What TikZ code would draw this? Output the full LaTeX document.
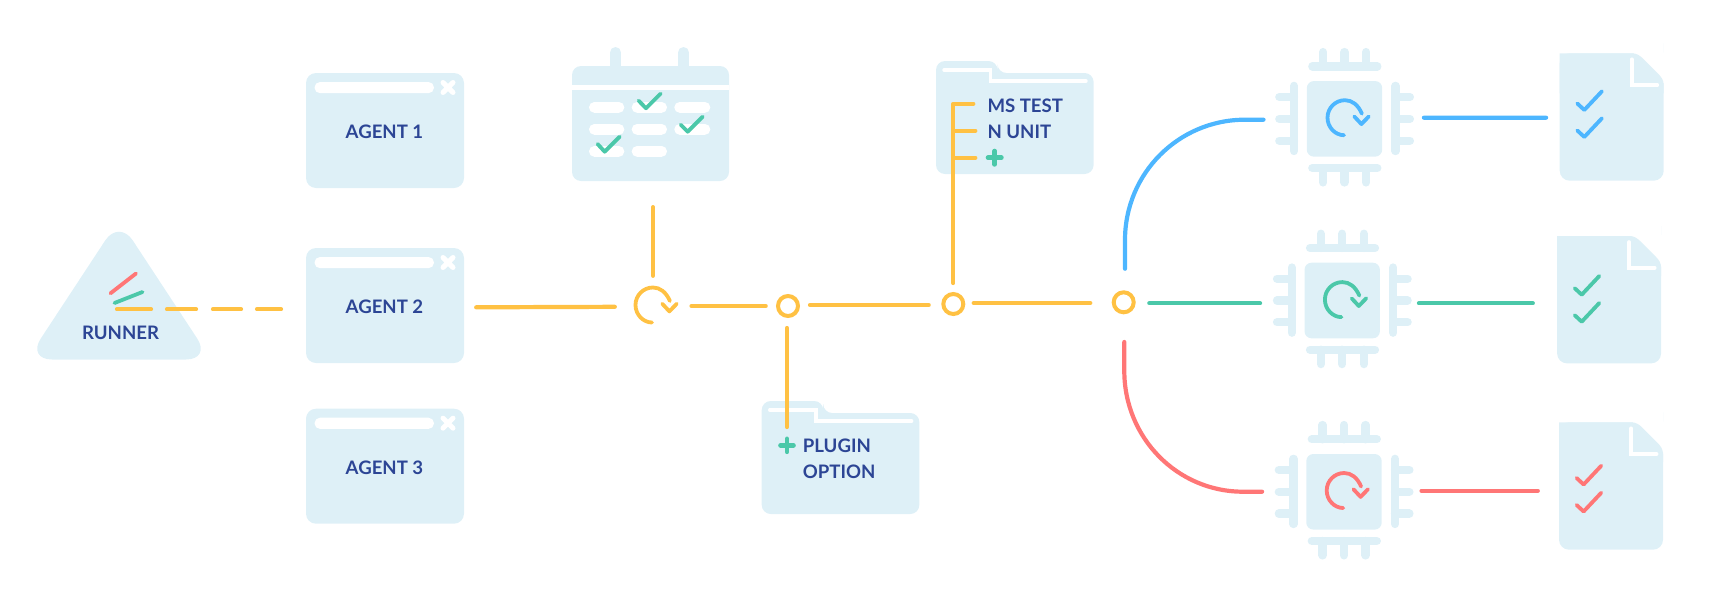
\documentclass[tikz,border=0pt]{standalone}
\usepackage{fontspec}
\setmainfont{Lato}
\definecolor{pale}{HTML}{DEF0F7}
\definecolor{amber}{HTML}{FFC143}
\definecolor{skyb}{HTML}{4DB6FF}
\definecolor{teal}{HTML}{4BC8A9}
\definecolor{coral}{HTML}{FF7676}
\definecolor{navy}{HTML}{2C4595}
\usetikzlibrary{calc}
\tikzset{
  panel/.style={fill=pale,rounded corners=10pt,inner sep=0pt,minimum width=158pt,minimum height=115pt},
  lbl/.style={text=navy,font=\fontsize{18.6}{18.6}\selectfont\bfseries,inner sep=0pt},
  lblw/.style={lbl,anchor=west},
  wire/.style={line width=4.2pt,line cap=round,line join=round},
  bar/.style={pale,line width=8.3pt,line cap=round},
  whitebar/.style={white,line cap=round,line join=miter},
  tick/.style={line width=3.8pt,line cap=round,line join=round},
  hub/.style={circle,draw=amber,line width=4pt,minimum size=20pt,inner sep=0pt},
  spot/.style={circle,minimum size=35pt,inner sep=0pt},
  core/.style={fill=pale,rounded corners=7pt,minimum width=75.4pt,minimum height=75.6pt,inner sep=0pt},
  sheet/.style={minimum width=104pt,minimum height=127.4pt,inner sep=0pt},
  plus/.style={teal,line width=4.6pt,line cap=round}
}
% refresh glyph around a point: #1 centre, #2 colour
\newcommand\refreshmark[2]{%
  \begin{scope}[shift={#1}]
    \draw[tick,#2] ($(0,0)+(16.9,-4)$) .. controls (13,-13) and (7,-17.5) .. (0,-17.5)
      .. controls (-9.7,-17.5) and (-17.5,-9.7) .. (-17.5,0)
      .. controls (-17.5,9.7) and (-9.7,17.5) .. (-1,17.5);
    \draw[tick,#2] (9.3,-1.2) -- (16.4,6.4) -- (23.8,-1.3);
  \end{scope}}
% chip: #1 name, #2 centre
\newcommand\chipmark[2]{%
  \node[core] (#1) at #2 {};
  \begin{scope}[shift={#2}]
    \foreach \sy in {-21.8,0,21.8}{
      \draw[bar] (-50.5,\sy) -- (-65.2,\sy);
      \draw[bar] (51,\sy) -- (65.4,\sy);}
    \foreach \sx in {-21.4,0,21.6}{
      \draw[bar] (\sx,-52.5) -- (\sx,-66.8);
      \draw[bar] (\sx,49.2) -- (\sx,63.6);}
    \draw[bar] (-50.5,-33) -- (-50.5,32.2);
    \draw[bar] (51,-33) -- (51,32.2);
    \draw[bar] (-32.2,-52.5) -- (32.8,-52.5);
    \draw[bar] (-32.2,49.2) -- (32.8,49.2);
  \end{scope}}
% document: #1 name, #2 centre, #3 colour, #4 vertical offset of the ticks
\newcommand\docmark[4]{%
  \node[sheet] (#1) at #2 {};
  \begin{scope}[shift={#2},shift={(-52,-63.7)}]
    \fill[pale,rounded corners=10pt] (0,0) -- (0,127.4) -- (104,127.4) -- (104,0) -- (104,0);
    \fill[white] (73,-1) -- (105,-1) -- (105,31) -- cycle;
    \fill[pale] (0,10) .. controls (0,4) and (4,0) .. (10,0) -- (72,0)
       .. controls (77,0) and (80,2) .. (84,6) -- (98,20) .. controls (102,24) and (104,27) .. (104,32) -- (104,40) -- (0,40) -- cycle;
    \draw[whitebar,line width=3.7pt] (72,6) -- (72,31.7) -- (97.6,31.7);
    \draw[tick,#3] (17.6,#4+50.2) -- (24.6,#4+56.7) -- (42.2,#4+38);
    \draw[tick,#3] (17.6,#4+77.2) -- (24.6,#4+83.7) -- (42.2,#4+65);
  \end{scope}}
% folder: #1 left, #2 tab top
\newcommand\foldermark[2]{%
  \begin{scope}[shift={(#1,#2)}]
    \fill[pale,rounded corners=9pt] (0,0) -- (0,113) -- (157.6,113) -- (157.6,12) -- (61.5,12) -- (61.5,0) -- cycle;
    \draw[whitebar,line width=3.4pt] (8,9) -- (54.3,9) -- (54.3,20) -- (150,20);
  \end{scope}}
% window decoration: #1 top-left
\newcommand\windowmark[1]{%
  \begin{scope}[shift={#1}]
    \fill[white,rounded corners=5.5pt] (8.5,9) rectangle (128,20.2);
    \draw[white,line width=5pt,line cap=round] (137,9.5) -- (147,19.5) (147,9.5) -- (137,19.5);
  \end{scope}}
\begin{document}
\begin{tikzpicture}[x=1pt,y=-1pt]
\useasboundingbox (0,0) rectangle (1722,611);
% runner
\coordinate (runner) at (119,309.3);
\fill[pale,rounded corners=25pt] (119,219.5) -- (27,359.5) -- (211,359.5) -- cycle;
\draw[tick,coral] (110.5,293.3) -- (136,273.5);
\draw[tick,teal] (114.5,303) -- (142.5,292);
\node[lbl] (runnerlabel) at (120.5,332.5) {RUNNER};
% agents
\node[panel] (agent1) at (385,130.5) {};
\node[panel] (agent2) at (385,305.5) {};
\node[panel] (agent3) at (385,466.2) {};
\windowmark{(306,73)}
\windowmark{(306,248)}
\windowmark{(306,408.7)}
\node[lbl] at (384.5,131.8) {AGENT 1};
\node[lbl] at (384.5,307) {AGENT 2};
\node[lbl] at (384.5,467.3) {AGENT 3};
% calendar
\draw[pale,line width=11pt,line cap=round] (615.5,52.5) -- (615.5,70) (683.5,52.5) -- (683.5,70);
\node[fill=pale,rounded corners=9pt,minimum width=157pt,minimum height=115pt,inner sep=0pt] (calendar) at (650.5,123.5) {};
\fill[white] (572,84.7) rectangle (729,90);
\foreach \cx/\cw in {589/35.3,631.7/35.3,674.3/36}{
  \foreach \cy in {102,124,146}{
    \ifdim\cy pt=146pt\ifdim\cx pt>670pt\else\fill[white,rounded corners=5.3pt] (\cx,\cy) rectangle ++(\cw,10.8);\fi
    \else\fill[white,rounded corners=5.3pt] (\cx,\cy) rectangle ++(\cw,10.8);\fi
  }}
\draw[tick,teal] (638.6,100.6) -- (646,108.3) -- (660.7,93.6);
\draw[tick,teal] (680.6,124.6) -- (687.7,131.7) -- (702.7,116.6);
\draw[tick,teal] (597.6,144) -- (604.7,151.7) -- (619.7,136.6);
% folders
\foldermark{761.7}{401}
\foldermark{936}{61}
\coordinate (pluginfolder) at (787,427);
\coordinate (testfolder) at (953.3,103.7);
% spine nodes
\node[spot] (spin) at (653,305) {};
\refreshmark{(653,305)}{amber}
\node[hub] (h1) at (788,306) {};
\node[hub] (h2) at (953.3,304) {};
\node[hub] (h3) at (1123.7,302.3) {};
% dashed link
\draw[wire,amber,dash pattern=on 34pt off 16pt on 29pt off 17pt on 28pt off 16pt on 24pt off 100pt] (117,309.3) -- (281,309.3);
% links along the spine
\draw[wire,amber] ([shift={(12,1.8)}]agent2.east) -- ([shift={(-20.5,1.8)}]spin.west);
\draw[wire,amber] ([shift={(20.8,1)}]spin.east) -- ([shift={(-10.3,0)}]h1.west);
\draw[wire,amber] ([shift={(10,-1)}]h1.east) -- ([shift={(-12.6,1)}]h2.west);
\draw[wire,amber] ([shift={(8.4,-1)}]h2.east) -- ([shift={(-21.4,0.7)}]h3.west);
\draw[wire,amber] ([shift={(0,-80.2)}]spin.north) -- ([shift={(0,-11.5)}]spin.north);
% branches
\draw[wire,amber] ([shift={(-1,10)}]h1.south) -- (pluginfolder);
\draw[wire,amber] ([shift={(0,-9)}]h2.north) -- (testfolder) -- ++(20,0);
\draw[wire,amber] (953.3,130.7) -- ++(22,0);
\draw[wire,amber] (953.3,157.7) -- ++(22,0);
\draw[plus] (787,438.8) -- (787,451.8) (780.5,445.3) -- (793.5,445.3);
\draw[plus] (994.7,151) -- (994.7,164.4) (988,157.7) -- (1001.4,157.7);
\node[lblw] at (802.7,445.7) {PLUGIN};
\node[lblw] at (802.7,471.7) {OPTION};
\node[lblw] at (987.3,105.7) {MS TEST};
\node[lblw] at (987.3,131.5) {N UNIT};
% chips
\chipmark{chipA}{(1344.5,118.85)}
\chipmark{chipB}{(1342.2,300.5)}
\chipmark{chipC}{(1344,491.8)}
\refreshmark{(1345,117.7)}{skyb}
\refreshmark{(1342.4,299.6)}{teal}
\refreshmark{(1344.2,490.5)}{coral}
% documents
\docmark{docA}{(1611.7,117)}{skyb}{0}
\docmark{docB}{(1609.1,299.7)}{teal}{2}
\docmark{docC}{(1611,486)}{coral}{5.5}
% fan-out
\draw[wire,skyb] ([shift={(1.3,-21.6)}]h3.north) -- (1125,240) .. controls (1125,173.5) and (1178.5,119.7) .. (1245,119.7) -- ([shift={(-43.1,0.85)}]chipA.west);
\draw[wire,teal] ([shift={(13.6,1)}]h3.east) -- ([shift={(-44.2,2.8)}]chipB.west);
\draw[wire,coral] ([shift={(0.6,27.7)}]h3.south) -- (1124.3,371) .. controls (1124.3,437.5) and (1177,491.7) .. (1243,491.7) -- ([shift={(-44,-0.1)}]chipC.west);
% results
\draw[wire,skyb] ([shift={(41.5,-1.15)}]chipA.east) -- ([shift={(-13.4,0.7)}]docA.west);
\draw[wire,teal] ([shift={(38.8,2.8)}]chipB.east) -- ([shift={(-24.1,3.6)}]docB.west);
\draw[wire,coral] ([shift={(39.6,-1.1)}]chipC.east) -- ([shift={(-21,4.7)}]docC.west);
\end{tikzpicture}
\end{document}
